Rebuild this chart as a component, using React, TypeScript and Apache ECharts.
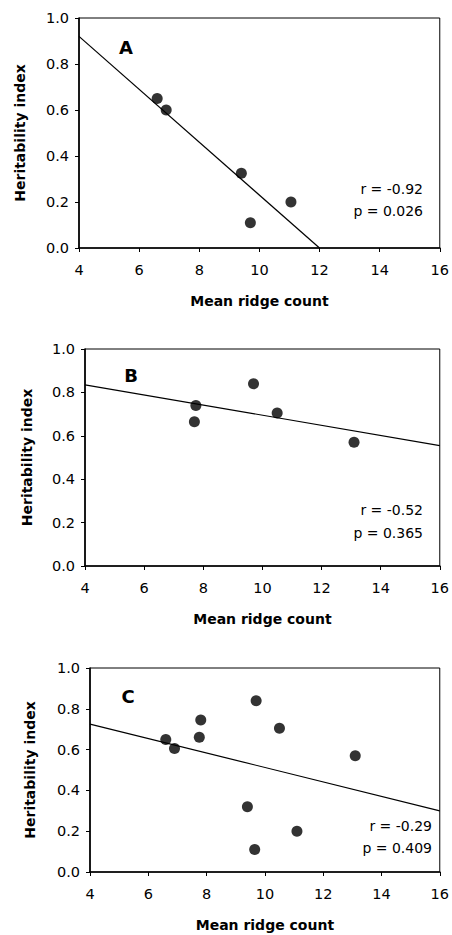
import React, { useEffect, useRef } from "react";
import * as echarts from "echarts";

// Panel A
const xA = [6.6, 6.9, 9.4, 9.7, 11.05];
const yA = [0.65, 0.6, 0.325, 0.11, 0.2];
const fitAx = [4, 12];
const fitAy = [0.92, 0.0];
// Panel B
const xB = [7.7, 7.75, 9.7, 10.5, 13.1];
const yB = [0.665, 0.74, 0.84, 0.705, 0.57];
const fitBx = [4, 16];
const fitBy = [0.835, 0.555];
// Panel C
const xC = [6.6, 6.9, 7.75, 7.8, 9.4, 9.65, 9.7, 10.5, 11.1, 13.1];
const yC = [0.65, 0.605, 0.66, 0.745, 0.32, 0.11, 0.84, 0.705, 0.2, 0.57];
const fitCx = [4, 16];
const fitCy = [0.725, 0.3];

const panelLabels = ["A", "B", "C"];
const rTexts = ["r = -0.92", "r = -0.52", "r = -0.29"];
const pTexts = ["p = 0.026", "p = 0.365", "p = 0.409"];
const xTitle = "Mean ridge count";
const yTitle = "Heritability index";

const FONT = "'DejaVu Sans', Verdana, sans-serif";

export default function App() {
  const ref = useRef<HTMLDivElement>(null);
  useEffect(() => {
    if (!ref.current) return;
    const chart = echarts.init(ref.current, null, { renderer: "svg" });
    const grids = [
      { left: 79, top: 18, width: 362, height: 230 },
      { left: 85, top: 349, width: 357, height: 217 },
      { left: 90, top: 668, width: 357, height: 204 },
    ];
    const yNameGaps = [52, 51, 53];
    const xs = [xA, xB, xC];
    const ys = [yA, yB, yC];
    const fx = [fitAx, fitBx, fitCx];
    const fy = [fitAy, fitBy, fitCy];
    const textPos = [
      { lx: 126, ly: 47, tx: 423, ry: 189, py: 211 },
      { lx: 131, ly: 375, tx: 423, ry: 510, py: 533 },
      { lx: 128, ly: 696, tx: 432, ry: 826, py: 848 },
    ];
    const axisLabel = { color: "#000", fontFamily: FONT, fontSize: 14.5 };
    const nameStyle = { color: "#000", fontFamily: FONT, fontSize: 14, fontWeight: "bold" as const };
    const option: any = {
      animation: false,
      grid: grids.map((g) => ({ ...g, show: true, borderColor: "#000", borderWidth: 1, backgroundColor: "transparent" })),
      xAxis: grids.map((_, i) => ({
        type: "value",
        gridIndex: i,
        min: 4,
        max: 16,
        interval: 2,
        name: xTitle,
        nameLocation: "middle",
        nameGap: 46,
        nameTextStyle: nameStyle,
        axisLine: { show: true, onZero: false, lineStyle: { color: "#000", width: 1.6 } },
        axisTick: { show: true, inside: false, length: 4, lineStyle: { color: "#000" } },
        axisLabel: { ...axisLabel, margin: 14 },
        splitLine: { show: false },
      })),
      yAxis: grids.map((_, i) => ({
        type: "value",
        gridIndex: i,
        min: 0,
        max: 1,
        interval: 0.2,
        name: yTitle,
        nameLocation: "middle",
        nameGap: yNameGaps[i],
        nameRotate: 90,
        nameTextStyle: nameStyle,
        axisLine: { show: true, onZero: false, lineStyle: { color: "#000", width: 1.6 } },
        axisTick: { show: true, inside: false, length: 4, lineStyle: { color: "#000" } },
        axisLabel: { ...axisLabel, margin: 10, formatter: (v: number) => v.toFixed(1) },
        splitLine: { show: false },
      })),
      series: [
        ...grids.map((_, i) => ({
          type: "line",
          xAxisIndex: i,
          yAxisIndex: i,
          data: fx[i].map((x, k) => [x, fy[i][k]]),
          showSymbol: false,
          symbol: "none",
          lineStyle: { color: "#000", width: 1.2 },
          silent: true,
          clip: true,
        })),
        ...grids.map((_, i) => ({
          type: "scatter",
          xAxisIndex: i,
          yAxisIndex: i,
          data: xs[i].map((x, k) => [x, ys[i][k]]),
          symbol: "circle",
          symbolSize: 11,
          itemStyle: { color: "#000" },
        })),
      ],
      graphic: textPos.flatMap((t, i) => [
        {
          type: "text",
          x: t.lx,
          y: t.ly,
          style: { text: panelLabels[i], font: `bold 18px ${FONT}`, fill: "#000", textAlign: "center", textVerticalAlign: "middle" },
        },
        {
          type: "text",
          x: t.tx,
          y: t.ry,
          style: { text: rTexts[i], font: `14px ${FONT}`, fill: "#000", textAlign: "right", textVerticalAlign: "middle" },
        },
        {
          type: "text",
          x: t.tx,
          y: t.py,
          style: { text: pTexts[i], font: `14px ${FONT}`, fill: "#000", textAlign: "right", textVerticalAlign: "middle" },
        },
      ]),
    };
    chart.setOption(option);
    return () => chart.dispose();
  }, []);
  return (
    <div
      ref={ref}
      style={{ position: "absolute", left: 0, top: 0, width: 452, height: 935, background: "#fff" }}
    />
  );
}
